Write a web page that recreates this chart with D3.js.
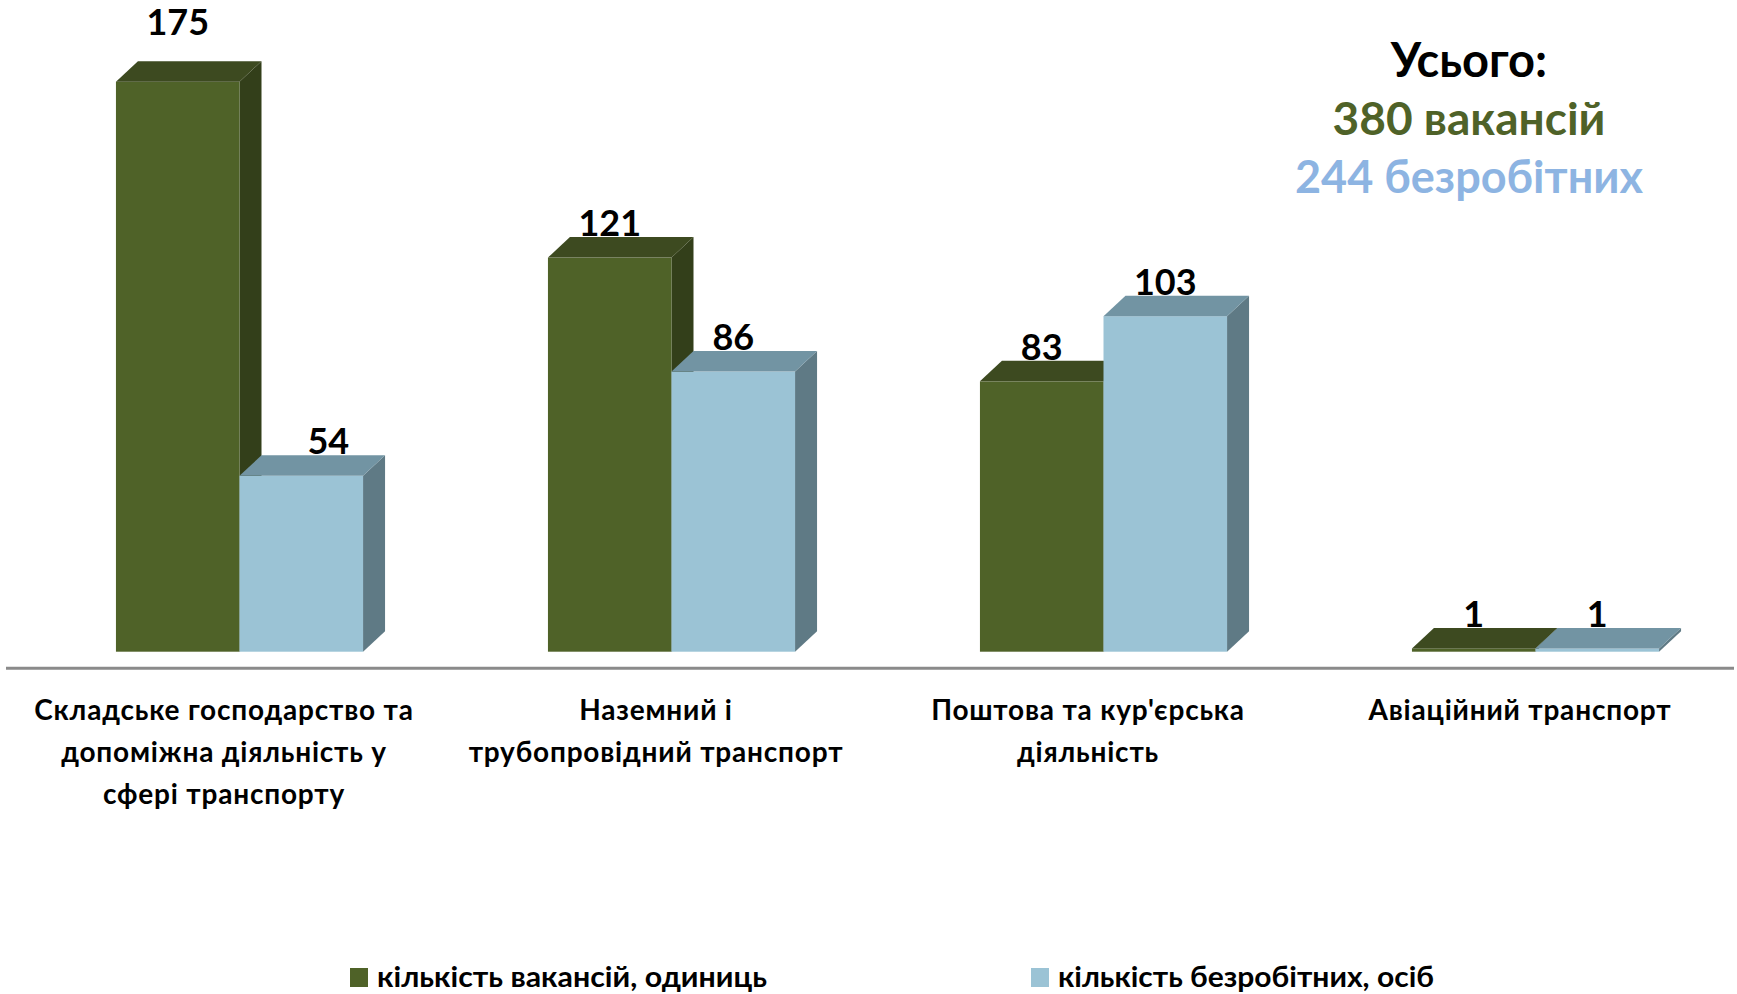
<!DOCTYPE html>
<html>
<head>
<meta charset="utf-8">
<script src="https://cdn.jsdelivr.net/npm/d3@7"></script>
<style>
  html, body { margin: 0; padding: 0; background: #ffffff; }
  svg { display: block; font-family: Lato, "Open Sans", sans-serif; }
</style>
</head>
<body>
<svg id="chart" width="1737" height="994"></svg>
<script>
// ---- data ----
const categories = [
  "Складське господарство та\nдопоміжна діяльність у\nсфері транспорту",
  "Наземний і\nтрубопровідний транспорт",
  "Поштова та кур'єрська\nдіяльність",
  "Авіаційний транспорт"
];
const seriesNames = ["кількість вакансій, одиниць", "кількість безробітних, осіб"];
const vacancies = [175, 121, 83, 1];
const unemployed = [54, 86, 103, 1];
const totalTitle = "Усього:";
const totalVacancies = "380 вакансій";
const totalUnemployed = "244 безробітних";

// ---- styles ----
const W = 1737, H = 994;
const colors = [
  { front: "#4f6228", top: "#3d4a20", side: "#333f1a" },
  { front: "#9bc3d5", top: "#7294a3", side: "#5f7a85" }
];
const depthX = 22, depthY = 20.5;

const svg = d3.select("#chart");

const x0 = d3.scaleBand().domain(categories).range([8, 1736])
  .paddingInner(0.428).paddingOuter(0.214);
const x1 = d3.scaleBand().domain(seriesNames).range([0, x0.bandwidth()]);
const y = d3.scaleLinear().domain([0, 175]).range([651.7, 81.7]);
const shift = 15.5;

const series = [vacancies, unemployed];

// axis line
svg.append("line")
  .attr("x1", 6).attr("x2", 1734)
  .attr("y1", 668.3).attr("y2", 668.3)
  .attr("stroke", "#8a8a8a").attr("stroke-width", 3);

// bars
categories.forEach((cat, ci) => {
  seriesNames.forEach((s, si) => {
    const v = series[si][ci];
    const xl = x0(cat) + x1(s) + shift;
    const xr = xl + x1.bandwidth();
    const yt = y(v), yb = y(0);
    const c = colors[si];
    const g = svg.append("g");
    g.append("path")
      .attr("d", `M${xr},${yt}L${xr + depthX},${yt - depthY}L${xr + depthX},${yb - depthY}L${xr},${yb}Z`)
      .attr("fill", c.side);
    g.append("rect")
      .attr("x", xl).attr("y", yt)
      .attr("width", xr - xl).attr("height", yb - yt)
      .attr("fill", c.front);
    g.append("path")
      .attr("d", `M${xl},${yt}L${xl + depthX},${yt - depthY}L${xr + depthX},${yt - depthY}L${xr},${yt}Z`)
      .attr("fill", c.top);
  });
});

// value labels
const labelNudge = { "0-0": [0, -25], "0-1": [27, 0] };
categories.forEach((cat, ci) => {
  seriesNames.forEach((s, si) => {
    const v = series[si][ci];
    const xl = x0(cat) + x1(s) + shift;
    const cx = xl + x1.bandwidth() / 2;
    const nd = labelNudge[ci + "-" + si] || [0, 0];
    svg.append("text")
      .attr("x", cx + nd[0])
      .attr("y", y(v) - depthY - 1 + nd[1])
      .attr("text-anchor", "middle")
      .attr("font-size", 36).attr("font-weight", 700)
      .attr("fill", "#000")
      .text(v);
  });
});

// category labels
categories.forEach(cat => {
  const lines = cat.split("\n");
  const t = svg.append("text")
    .attr("text-anchor", "middle")
    .attr("font-size", 28).attr("font-weight", 700)
    .attr("letter-spacing", 0.8)
    .attr("fill", "#000");
  lines.forEach((ln, i) => {
    t.append("tspan")
      .attr("x", x0(cat) + x0.bandwidth() / 2)
      .attr("y", 720 + i * 42)
      .text(ln);
  });
});

// totals block
const tx = 1469;
svg.append("text").attr("x", tx).attr("y", 77).attr("text-anchor", "middle")
  .attr("font-size", 47).attr("font-weight", 700).attr("fill", "#000").text(totalTitle);
svg.append("text").attr("x", tx).attr("y", 135).attr("text-anchor", "middle")
  .attr("font-size", 46).attr("font-weight", 700).attr("fill", "#4f6228").text(totalVacancies);
svg.append("text").attr("x", tx).attr("y", 193).attr("text-anchor", "middle")
  .attr("font-size", 45).attr("font-weight", 700).attr("fill", "#8db4e2").text(totalUnemployed);

// legend
const legendX = [350, 1031];
const legendW = [390, 376];
seriesNames.forEach((s, i) => {
  svg.append("rect")
    .attr("x", legendX[i]).attr("y", 968)
    .attr("width", 18).attr("height", 19)
    .attr("fill", colors[i].front);
  svg.append("text")
    .attr("x", legendX[i] + 27).attr("y", 987)
    .attr("font-size", 28).attr("font-weight", 700).attr("fill", "#000")
    .attr("textLength", legendW[i]).attr("lengthAdjust", "spacingAndGlyphs")
    .text(s);
});
</script>
</body>
</html>
